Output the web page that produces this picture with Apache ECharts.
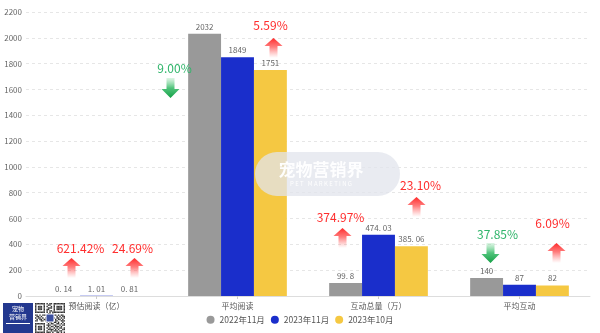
<!DOCTYPE html>
<html>
<head>
<meta charset="utf-8">
<script src="https://cdn.jsdelivr.net/npm/echarts@6/dist/echarts.min.js"></script>
<style>
  html, body { margin: 0; padding: 0; background: #fff; }
  #chart { width: 600px; height: 333px; }
</style>
</head>
<body>
<div id="chart"></div>
<script>
// Categories and series
const categories = ['预估阅读（亿）', '平均阅读', '互动总量（万）', '平均互动'];
const seriesNames = ['2022年11月', '2023年11月', '2023年10月'];
const values2022Nov = [0.14, 2032, 99.8, 140];
const values2023Nov = [1.01, 1849, 474.03, 87];
const values2023Oct = [0.81, 1751, 385.06, 82];
const yTicks = [0, 200, 400, 600, 800, 1000, 1200, 1400, 1600, 1800, 2000, 2200];

// Change annotations
const changeTexts = ['621.42%', '24.69%', '9.00%', '5.59%', '374.97%', '23.10%', '37.85%', '6.09%'];
const changeDirs = ['up', 'up', 'down', 'up', 'up', 'up', 'down', 'up'];

// Placement of each annotation: category index, pixel shift from category
// centre for text and arrow, and the axis value at text centre / arrow top.
const annLayout = [
  { cat: 0, tdx: -16, tv: 372,  adx: -25, av: 294 },
  { cat: 0, tdx: 36,  tv: 372,  adx: 38,  av: 294 },
  { cat: 1, tdx: -63, tv: 1766, adx: -67, av: 1689 },
  { cat: 1, tdx: 33,  tv: 2099, adx: 36,  av: 1999 },
  { cat: 2, tdx: -38, tv: 612,  adx: -36, av: 527 },
  { cat: 2, tdx: 42,  tv: 860,  adx: 38,  av: 767 },
  { cat: 3, tdx: -22, tv: 480,  adx: -29, av: 411 },
  { cat: 3, tdx: 33,  tv: 565,  adx: 37,  av: 411 }
];

const colors = ['#999999', '#1a2ecb', '#f5c842'];
const FONT = '"Noto Sans CJK SC", "Noto Sans", sans-serif';
const TOP_Z = 100;

const chart = echarts.init(document.getElementById('chart'), null, { renderer: 'canvas' });

function fmtVal(p) {
  return String(p.value).replace('.', '. ');
}

function makeSeries(name, data, color) {
  return {
    name: name,
    type: 'bar',
    data: data,
    barGap: '0%',
    barCategoryGap: '30%',
    itemStyle: { color: color },
    label: {
      show: true,
      position: 'top',
      distance: 3,
      fontSize: 8,
      color: '#666',
      fontFamily: FONT,
      formatter: fmtVal
    }
  };
}

chart.setOption({
  animation: false,
  backgroundColor: '#fff',
  color: colors,
  grid: { left: 26, right: 10, top: 12, bottom: 37, containLabel: false },
  legend: {
    bottom: 4,
    left: 'center',
    icon: 'circle',
    itemWidth: 8,
    itemHeight: 8,
    itemGap: 6,
    textStyle: { fontSize: 8.5, color: '#555', fontFamily: FONT },
    data: seriesNames
  },
  xAxis: {
    type: 'category',
    data: categories,
    axisLine: { lineStyle: { color: '#ddd', width: 1 } },
    axisTick: { show: true, alignWithLabel: true, length: 3, lineStyle: { color: '#ccc' } },
    axisLabel: { fontSize: 8, color: '#555', fontFamily: FONT, margin: 6 }
  },
  yAxis: {
    type: 'value',
    min: yTicks[0],
    max: yTicks[yTicks.length - 1],
    interval: yTicks[1] - yTicks[0],
    axisLine: { show: false },
    axisTick: { show: false },
    axisLabel: { fontSize: 8, color: '#666', fontFamily: FONT, margin: 4, formatter: function (v) { return String(v); } },
    splitLine: { lineStyle: { color: '#e6e6e6', type: [3, 3] } }
  },
  series: [
    makeSeries(seriesNames[0], values2022Nov, colors[0]),
    makeSeries(seriesNames[1], values2023Nov, colors[1]),
    makeSeries(seriesNames[2], values2023Oct, colors[2])
  ]
});

// Arrow shapes (width 18, height 20)
function upArrowPoints(x, y) {
  return [[x, y], [x + 9, y + 8], [x + 4, y + 8], [x + 4, y + 20], [x - 4, y + 20], [x - 4, y + 8], [x - 9, y + 8]];
}
function downArrowPoints(x, y) {
  return [[x - 4, y], [x + 4, y], [x + 4, y + 11], [x + 9, y + 11], [x, y + 20], [x - 9, y + 11], [x - 4, y + 11]];
}

function rect(x, y, w, h, style, r) {
  return { type: 'rect', z: TOP_Z, shape: { x: x, y: y, width: w, height: h, r: r || 0 }, style: style };
}
function text(x, y, str, style) {
  return { type: 'text', z: TOP_Z + 1, x: x, y: y, style: Object.assign({ text: str, fontFamily: FONT, align: 'center', verticalAlign: 'middle' }, style) };
}

function buildGraphics() {
  const els = [];
  annLayout.forEach(function (a, i) {
    const up = changeDirs[i] === 'up';
    const c = chart.convertToPixel({ gridIndex: 0 }, [a.cat, a.tv]);
    const ac = chart.convertToPixel({ gridIndex: 0 }, [a.cat, a.av]);
    els.push(text(c[0] + a.tdx, c[1], changeTexts[i], { fill: up ? '#ff2d2d' : '#2fb56a', fontSize: 12 }));
    const gradient = up
      ? new echarts.graphic.LinearGradient(0, 0, 0, 1, [
          { offset: 0, color: 'rgba(255,40,40,1)' },
          { offset: 0.45, color: 'rgba(255,80,80,0.75)' },
          { offset: 1, color: 'rgba(255,120,120,0)' }
        ])
      : new echarts.graphic.LinearGradient(0, 0, 0, 1, [
          { offset: 0, color: 'rgba(120,215,150,0.25)' },
          { offset: 0.5, color: 'rgba(50,185,100,0.85)' },
          { offset: 1, color: 'rgba(20,160,70,1)' }
        ]);
    const x = ac[0] + a.adx;
    const y = ac[1];
    els.push({
      type: 'polygon',
      z: TOP_Z,
      shape: { points: up ? upArrowPoints(x, y) : downArrowPoints(x, y) },
      style: { fill: gradient }
    });
  });

  // Brand watermark, laid over the bars
  els.push(rect(255, 152, 145, 44, { fill: 'rgba(226,228,236,0.75)' }, 22));
  els.push(text(321, 170, '宠物营销界', { fill: 'rgba(255,255,255,0.95)', fontSize: 17, fontWeight: 'bold' }));
  els.push(text(321, 184, 'P E T   M A R K E T I N G', { fill: 'rgba(255,255,255,0.95)', fontSize: 6 }));

  // Logo badge at bottom left
  els.push(rect(3, 303, 30, 30, { fill: '#23388f' }));
  els.push(rect(6, 323, 24, 1, { fill: '#fff' }));
  els.push(text(18, 313, '宠物\n营销界', { fill: '#fff', fontSize: 6, lineHeight: 8 }));

  // QR code block
  const qx = 35, qy = 303;
  els.push(rect(qx, qy, 30, 30, { fill: '#fff' }));
  const pattern = [
    '111111101011011111111',
    '100000100110010000001',
    '101110101001010111101',
    '101110100111010111101',
    '101110101100010111101',
    '100000101011010000001',
    '111111101010111111111',
    '000000000110100000000',
    '110101110011011010110',
    '011010001101100101011',
    '101101011111110110101',
    '010110111100101011010',
    '110011011111101100111',
    '000000001011011010010',
    '111111100101100110101',
    '100000101110011001011',
    '101110100101101110100',
    '101110101010010101101',
    '101110100111101010011',
    '100000101001011101100',
    '111111101110100110101'
  ];
  const step = 30 / pattern.length;
  pattern.forEach(function (row, r) {
    for (let k = 0; k < row.length; k++) {
      if (row[k] === '1') {
        els.push(rect(qx + k * step, qy + r * step, step, step, { fill: '#333' }));
      }
    }
  });
  const centre = rect(qx + 11, qy + 11, 8, 8, { fill: '#3b4fa0', stroke: '#fff', lineWidth: 1 });
  centre.z = TOP_Z + 1;
  els.push(centre);

  chart.setOption({ graphic: { elements: els } });
}

buildGraphics();
</script>
</body>
</html>
